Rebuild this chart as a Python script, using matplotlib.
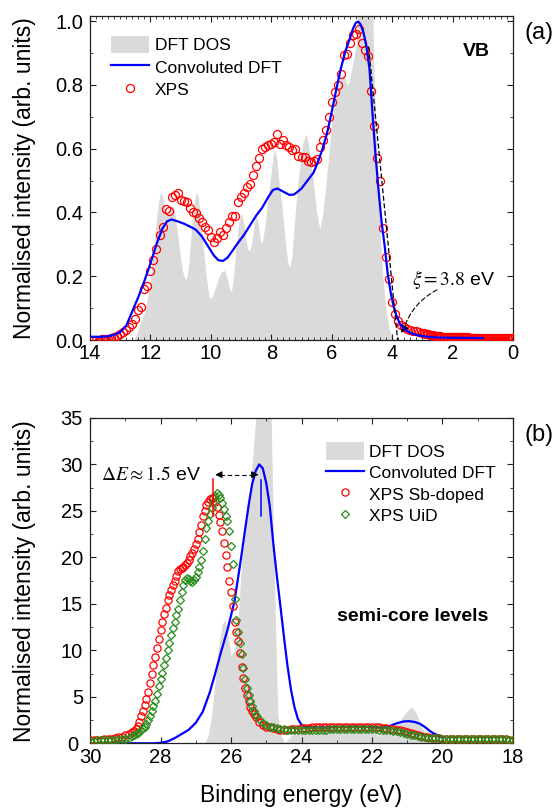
import numpy as np
import matplotlib
matplotlib.use('Agg')
import matplotlib.pyplot as plt
from matplotlib.ticker import MultipleLocator

plt.rcParams.update({
    'font.family': 'sans-serif',
    'font.sans-serif': ['Liberation Sans', 'Arial', 'DejaVu Sans'],
    'font.size': 14,
    'mathtext.fontset': 'stix',
    'axes.linewidth': 0.9,
    'axes.edgecolor': '#222222',
    'xtick.direction': 'in',
    'ytick.direction': 'in',
    'xtick.top': True,
    'ytick.right': True,
    'xtick.major.size': 4.5,
    'ytick.major.size': 4.5,
    'xtick.minor.size': 2.5,
    'ytick.minor.size': 2.5,
    'xtick.major.pad': 3.2,
    'ytick.major.pad': 5,
    'xtick.labelsize': 14.5,
    'ytick.labelsize': 14.5,
})

# ---------------- (a) valence band ----------------
dos_vb_E = [12.6, 12.55, 12.45, 12.35, 12.25, 12.19, 12.1, 12.0, 11.9, 11.8,
            11.72, 11.66, 11.6, 11.52, 11.45, 11.38, 11.3, 11.25, 11.18, 11.1,
            11.03, 10.95, 10.87, 10.81, 10.74, 10.68, 10.62, 10.55, 10.48, 10.42,
            10.35, 10.26, 10.18, 10.1, 10.04, 9.96, 9.88, 9.76, 9.65, 9.54,
            9.45, 9.38, 9.32, 9.25, 9.18, 9.1, 9.03, 8.98, 8.92, 8.85,
            8.78, 8.71, 8.64, 8.56, 8.49, 8.42, 8.36, 8.3, 8.22, 8.11,
            8.0, 7.94, 7.89, 7.82, 7.75, 7.67, 7.55, 7.45, 7.39, 7.32,
            7.25, 7.17, 7.05, 6.95, 6.85, 6.78, 6.7, 6.62, 6.5, 6.4,
            6.32, 6.22, 6.12, 6.0, 5.9, 5.79, 5.7, 5.63, 5.55, 5.46,
            5.38, 5.28, 5.18, 5.1, 5.0, 4.8, 4.66, 4.6, 4.55, 4.47,
            4.4, 4.3, 4.2, 4.1, 4.0, 3.9]
dos_vb = [0.0, 0.0, 0.02, 0.05, 0.07, 0.088, 0.13, 0.19, 0.28, 0.38,
          0.44, 0.465, 0.45, 0.41, 0.39, 0.40, 0.42, 0.42, 0.39, 0.33,
          0.276, 0.22, 0.195, 0.19, 0.23, 0.30, 0.37, 0.43, 0.465, 0.45,
          0.39, 0.30, 0.22, 0.16, 0.13, 0.135, 0.155, 0.19, 0.215, 0.218,
          0.19, 0.16, 0.15, 0.2, 0.28, 0.35, 0.39, 0.395, 0.37, 0.32,
          0.285, 0.28, 0.31, 0.37, 0.39, 0.36, 0.31, 0.305, 0.35, 0.443,
          0.53, 0.58, 0.595, 0.57, 0.5, 0.44, 0.32, 0.24, 0.23, 0.26,
          0.35, 0.443, 0.55, 0.62, 0.645, 0.62, 0.56, 0.505, 0.4, 0.35,
          0.38, 0.46, 0.56, 0.68, 0.75, 0.79, 0.82, 0.83, 0.815, 0.80,
          0.83, 0.88, 0.93, 1.1, 1.3, 1.4, 1.1, 0.85, 0.7, 0.5,
          0.34, 0.19, 0.09, 0.035, 0.008, 0.0]

conv_vb_E = [14.0, 13.6, 13.4, 13.2, 13.0, 12.8, 12.6, 12.4, 12.2, 12.0,
             11.8, 11.6, 11.45, 11.3, 11.1, 10.9, 10.7, 10.5, 10.3, 10.1,
             9.9, 9.75, 9.6, 9.45, 9.3, 9.1, 8.9, 8.7, 8.5, 8.3,
             8.1, 7.95, 7.8, 7.6, 7.4, 7.25, 7.1, 7.0, 6.8, 6.6,
             6.45, 6.3, 6.15, 6.0, 5.85, 5.7, 5.55, 5.4, 5.3, 5.2,
             5.12, 5.05, 4.95, 4.85, 4.75, 4.65, 4.55, 4.45, 4.35, 4.25,
             4.15, 4.05, 3.95, 3.86, 3.75, 3.6, 3.4, 3.2, 3.0, 2.6,
             2.0, 1.0]
conv_vb = [0.010, 0.010, 0.012, 0.016, 0.025, 0.045, 0.090, 0.135, 0.185, 0.240,
           0.300, 0.350, 0.372, 0.378, 0.372, 0.365, 0.356, 0.346, 0.325, 0.295,
           0.265, 0.250, 0.248, 0.258, 0.278, 0.305, 0.330, 0.360, 0.390, 0.415,
           0.448, 0.470, 0.475, 0.465, 0.455, 0.456, 0.467, 0.475, 0.500, 0.525,
           0.560, 0.600, 0.650, 0.715, 0.785, 0.850, 0.905, 0.945, 0.975, 0.995,
           0.998, 0.990, 0.965, 0.920, 0.850, 0.710, 0.580, 0.470, 0.370, 0.297,
           0.210, 0.150, 0.105, 0.077, 0.052, 0.035, 0.022, 0.016, 0.012, 0.008,
           0.007, 0.006]

# XPS sampled every 0.1 eV down to 3.0 eV, every 0.05 eV below
xps_vb_E = np.round(np.concatenate([np.arange(13.9, 2.95, -0.1),
                                    np.arange(2.95, -0.01, -0.05)]), 2)
xps_vb = [0.000, 0.000, 0.001, 0.002, 0.003, 0.004, 0.006, 0.009, 0.013, 0.018,
          0.024, 0.030, 0.040, 0.050, 0.065, 0.093, 0.105, 0.160, 0.170, 0.215,
          0.250, 0.286, 0.330, 0.355, 0.410, 0.405, 0.448, 0.455, 0.462, 0.440,
          0.435, 0.433, 0.415, 0.402, 0.398, 0.381, 0.370, 0.355, 0.345, 0.323,
          0.307, 0.320, 0.339, 0.328, 0.351, 0.370, 0.390, 0.390, 0.432, 0.448,
          0.460, 0.480, 0.490, 0.516, 0.547, 0.570, 0.600, 0.605, 0.610, 0.616,
          0.620, 0.647, 0.616, 0.626, 0.610, 0.605, 0.595, 0.600, 0.578, 0.573,
          0.573, 0.560, 0.558, 0.560, 0.568, 0.605, 0.626, 0.657, 0.700, 0.746,
          0.777, 0.800, 0.835, 0.893, 0.898, 0.930, 0.955, 0.960, 0.975, 0.930,
          0.910, 0.890, 0.780, 0.670, 0.570, 0.500, 0.350, 0.260, 0.190, 0.120,
          0.080, 0.060, 0.048, 0.040, 0.035, 0.031, 0.029, 0.027, 0.025, 0.022,
          # 2.95 .. 0.0
          0.021, 0.020, 0.019, 0.018, 0.017, 0.016, 0.015, 0.014, 0.013, 0.012,
          0.011, 0.011, 0.010, 0.010, 0.009, 0.009, 0.009, 0.008, 0.008, 0.008,
          0.008, 0.008, 0.008, 0.008, 0.008, 0.008, 0.008, 0.008, 0.008, 0.008,
          0.007, 0.007, 0.007, 0.007, 0.007, 0.007, 0.007, 0.007, 0.007, 0.007,
          0.007, 0.007, 0.007, 0.007, 0.007, 0.007, 0.007, 0.007, 0.007, 0.007,
          0.007, 0.007, 0.007, 0.007, 0.007, 0.007, 0.007, 0.007, 0.007, 0.007]

# leading-edge extrapolation (dashed line)
edge_E = [4.78, 3.82]
edge_val = [0.92, 0.0]

# ---------------- (b) semi-core levels ----------------
dos_sc_E = [26.75, 26.65, 26.55, 26.45, 26.35, 26.25, 26.17, 26.1, 26.0, 25.9,
            25.8, 25.7, 25.6, 25.5, 25.4, 25.28, 25.15, 25.05, 24.95, 24.86,
            24.78, 24.72, 24.67, 24.6, 24.5, 24.45, 24.3, 24.0, 23.5, 23.0,
            22.5, 22.0, 21.9, 21.82, 21.7, 21.4, 21.2, 21.0, 20.88, 20.75,
            20.6, 20.45, 20.3, 20.1, 19.9]
dos_sc = [0.0, 0.8, 3.0, 6.8, 10.5, 12.8, 13.3, 11.8, 9.5, 10.0,
          13.0, 19.5, 22.5, 26.0, 30.0, 36.0, 55.0, 60.0, 45.0, 35.0,
          19.7, 10.0, 3.0, 1.0, 0.2, 0.1, 0.8, 1.3, 1.5, 1.6,
          1.6, 1.5, 1.2, 0.7, 1.3, 1.8, 2.5, 3.5, 3.9, 3.3,
          1.8, 0.8, 0.3, 0.1, 0.0]

conv_sc_E = [30.0, 28.2, 28.0, 27.8, 27.6, 27.4, 27.2, 27.0, 26.8, 26.6,
             26.46, 26.3, 26.1, 25.9, 25.7, 25.6, 25.5, 25.4, 25.3, 25.2,
             25.1, 25.0, 24.9, 24.8, 24.7, 24.6, 24.5, 24.4, 24.3, 24.2,
             24.1, 24.0, 23.9, 23.5, 23.0, 22.5, 22.0, 21.7, 21.5, 21.3,
             21.1, 20.95, 20.8, 20.64, 20.5, 20.35, 20.26, 20.1, 20.0]
conv_sc = [0.0, 0.0, 0.05, 0.2, 0.55, 1.0, 1.45, 2.2, 3.4, 5.5,
           7.35, 9.6, 12.2, 15.3, 20.3, 23.0, 25.6, 27.9, 29.3, 30.0,
           29.6, 28.0, 25.5, 21.5, 18.0, 14.8, 11.5, 8.4, 5.8, 3.9,
           2.6, 2.0, 1.75, 1.7, 1.75, 1.8, 1.75, 1.7, 1.85, 2.15,
           2.35, 2.38, 2.3, 2.1, 1.75, 1.3, 1.08, 0.8, 0.6]

# XPS grid: 0.1 eV on the tails, 0.05 eV across the main peak
xps_sc_E = np.round(np.concatenate([np.arange(30.0, 28.79, -0.1),
                                    np.arange(28.75, 25.29, -0.05),
                                    np.arange(25.2, 17.99, -0.1)]), 2)
xps_sb = [0.30, 0.32, 0.35, 0.38, 0.42, 0.46, 0.50, 0.56, 0.64, 0.72, 0.85, 1.0, 1.2,
          # 28.75 .. 25.30
          1.35, 1.55, 1.9, 2.3, 2.9, 3.5, 4.1, 4.8, 5.5, 6.5,
          7.5, 8.4, 9.3, 10.3, 11.2, 12.2, 13.0, 13.9, 14.6, 15.4,
          16.0, 16.5, 17.0, 17.5, 18.0, 18.5, 18.8, 18.9, 19.0, 19.2,
          19.4, 19.7, 20.1, 20.5, 20.9, 21.4, 22.0, 22.7, 23.5, 24.4,
          25.0, 25.6, 26.0, 26.3, 26.4, 26.4, 26.0, 25.4, 24.6, 23.8,
          22.8, 21.6, 20.3, 19.0, 17.5, 16.3, 14.8, 13.1, 12.0, 11.0,
          9.7, 8.2, 7.0, 6.0, 5.2, 4.5, 3.9, 3.45, 3.1, 2.8,
          # 25.2 .. 18.0
          2.3, 2.0, 1.8, 1.7, 1.6, 1.5, 1.45, 1.45, 1.45, 1.5, 1.5, 1.55, 1.6,
          1.65, 1.65, 1.7, 1.7, 1.7, 1.75, 1.75, 1.75, 1.8, 1.8, 1.8, 1.8,
          1.8, 1.8, 1.8, 1.8, 1.8, 1.75, 1.75, 1.7, 1.7, 1.7, 1.65, 1.6,
          1.55, 1.5, 1.45, 1.4, 1.3, 1.2, 1.1, 1.0, 0.9, 0.8, 0.72, 0.65,
          0.6, 0.56, 0.53, 0.5,
          0.5, 0.49, 0.48, 0.48, 0.47, 0.46, 0.46, 0.45, 0.45, 0.44,
          0.44, 0.43, 0.43, 0.42, 0.42, 0.42, 0.41, 0.41, 0.40, 0.40]
xps_uid = [0.25, 0.28, 0.30, 0.32, 0.34, 0.36, 0.38, 0.40, 0.42, 0.45, 0.50, 0.60, 0.75,
           # 28.75 .. 25.30
           0.85, 0.95, 1.07, 1.25, 1.45, 1.65, 1.8, 2.1, 2.5, 2.95,
           3.5, 4.0, 4.6, 5.3, 6.2, 6.9, 7.6, 8.4, 9.2, 10.0,
           10.8, 11.6, 12.4, 13.1, 13.8, 14.5, 15.4, 16.3, 17.0, 17.6,
           17.8, 17.7, 17.5, 17.4, 17.6, 17.9, 18.4, 19.0, 19.7, 20.7,
           22.0, 23.2, 23.9, 24.7, 25.3, 26.0, 26.6, 26.9, 26.7, 26.4,
           25.8, 25.2, 24.5, 23.9, 22.8, 21.2, 19.3, 15.5, 13.3, 12.0,
           10.8, 9.6, 8.1, 6.9, 6.0, 5.2, 4.6, 4.0, 3.5, 3.05,
           # 25.2 .. 18.0
           2.6, 2.2, 1.95, 1.8, 1.7, 1.6, 1.55, 1.5, 1.45, 1.4, 1.4, 1.4, 1.4,
           1.4, 1.4, 1.4, 1.45, 1.45, 1.45, 1.45, 1.5, 1.5, 1.5, 1.5, 1.5,
           1.5, 1.5, 1.5, 1.5, 1.5, 1.5, 1.5, 1.5, 1.5, 1.45, 1.45, 1.45,
           1.4, 1.35, 1.3, 1.2, 1.1, 1.0, 0.92, 0.85, 0.78, 0.72, 0.66, 0.62,
           0.58, 0.55, 0.52, 0.5,
           0.5, 0.49, 0.48, 0.48, 0.47, 0.46, 0.46, 0.45, 0.45, 0.44,
           0.44, 0.43, 0.43, 0.42, 0.42, 0.42, 0.41, 0.41, 0.40, 0.40]

assert len(xps_vb) == len(xps_vb_E), (len(xps_vb), len(xps_vb_E))
assert len(xps_sb) == len(xps_sc_E), (len(xps_sb), len(xps_sc_E))
assert len(xps_uid) == len(xps_sc_E), (len(xps_uid), len(xps_sc_E))

GRAY = '#dadada'
GREEN = '#2a8c1c'

fig = plt.figure(figsize=(5.57, 8.08), dpi=100)
ax1 = fig.add_axes([0.1616, 0.5792, 0.7594, 0.4007])
ax2 = fig.add_axes([0.1616, 0.0801, 0.7594, 0.4026])

# ----- panel (a) -----
ax1.fill_between(dos_vb_E, 0, dos_vb, color=GRAY, lw=0, label='DFT DOS', zorder=1)
ax1.plot(xps_vb_E, xps_vb, 'o', ms=5.8, mfc='none', mec='red', mew=0.9,
         label='XPS', zorder=3)
ax1.plot(conv_vb_E, conv_vb, color='blue', lw=1.6, label='Convoluted DFT', zorder=4)
ax1.plot(edge_E, edge_val, color='k', lw=0.9, ls=(0, (4, 2)), zorder=5)

ax1.set_xlim(14, 0)
ax1.set_ylim(0, 1.015)
ax1.xaxis.set_major_locator(MultipleLocator(2))
ax1.xaxis.set_minor_locator(MultipleLocator(0.2))
ax1.yaxis.set_major_locator(MultipleLocator(0.2))
ax1.yaxis.set_minor_locator(MultipleLocator(0.1))
ax1.yaxis.set_major_formatter(plt.FormatStrFormatter('%.1f'))
ax1.set_ylabel('Normalised intensity (arb. units)', fontsize=16.5)
ax1.yaxis.set_label_coords(-0.128, 0.5)

h, l = ax1.get_legend_handles_labels()
order = [0, 2, 1]
ax1.legend([h[i] for i in order], [l[i] for i in order], loc='upper left',
           bbox_to_anchor=(0.05, 0.94), frameon=False, fontsize=12.5,
           handlelength=2.2, handleheight=1.15, handletextpad=0.3,
           labelspacing=0.28, borderpad=0, borderaxespad=0, numpoints=1)

ax1.text(0.76, 0.904, 'VB', fontsize=14, fontweight='bold', ha='right', va='center')
ax1.text(3.35, 0.19, r'$\xi = 3.8$ eV', fontsize=14, ha='left', va='center')
ax1.annotate('', xy=(3.62, 0.035), xytext=(2.52, 0.157),
             arrowprops=dict(arrowstyle='-', color='k', lw=0.8, ls=(0, (4, 2.5)),
                             connectionstyle='arc3,rad=0.2', shrinkA=0, shrinkB=0))
ax1.annotate('', xy=(3.70, 0.022), xytext=(3.62, 0.035),
             arrowprops=dict(arrowstyle='-|>', color='k', lw=0.8,
                             mutation_scale=11, shrinkA=0, shrinkB=0))

# ----- panel (b) -----
ax2.fill_between(dos_sc_E, 0, dos_sc, color=GRAY, lw=0, label='DFT DOS', zorder=1)
ax2.plot(conv_sc_E, conv_sc, color='blue', lw=1.6, label='Convoluted DFT', zorder=2)
ax2.plot(xps_sc_E, xps_sb, 'o', ms=5.2, mfc='none', mec='red', mew=0.9,
         label='XPS Sb-doped', zorder=3)
ax2.plot(xps_sc_E, xps_uid, 'D', ms=3.9, mfc='none', mec=GREEN, mew=0.9,
         label='XPS UiD', zorder=4)

# peak markers and shift arrow
ax2.plot([26.5, 26.5], [24.4, 28.4], color='red', lw=1.1, zorder=5)
ax2.plot([25.16, 25.16], [24.4, 28.3], color='blue', lw=1.1, zorder=5)
ax2.plot([26.3, 25.35], [28.9, 28.9], color='k', lw=0.8, ls=(0, (4, 2.5)), zorder=5)
ax2.annotate('', xy=(26.45, 28.9), xytext=(26.3, 28.9),
             arrowprops=dict(arrowstyle='-|>', color='k', lw=0.8,
                             mutation_scale=10, shrinkA=0, shrinkB=0))
ax2.annotate('', xy=(25.22, 28.9), xytext=(25.35, 28.9),
             arrowprops=dict(arrowstyle='-|>', color='k', lw=0.8,
                             mutation_scale=10, shrinkA=0, shrinkB=0))
ax2.text(26.83, 28.9, r'$\Delta E \approx 1.5$ eV', fontsize=14, ha='right', va='center')
ax2.text(20.85, 13.6, 'semi-core levels', fontsize=14, fontweight='bold',
         ha='center', va='center')

ax2.set_xlim(30, 18)
ax2.set_ylim(0, 35)
ax2.xaxis.set_major_locator(MultipleLocator(2))
ax2.xaxis.set_minor_locator(MultipleLocator(1))
ax2.yaxis.set_major_locator(MultipleLocator(5))
ax2.yaxis.set_minor_locator(MultipleLocator(2.5))
ax2.set_ylabel('Normalised intensity (arb. units)', fontsize=16.5)
ax2.yaxis.set_label_coords(-0.128, 0.5)
ax2.set_xlabel('Binding energy (eV)', fontsize=16.5)
ax2.xaxis.set_label_coords(0.5, -0.125)

ax2.legend(loc='upper left', bbox_to_anchor=(0.558, 0.925), frameon=False,
           fontsize=12.5, handlelength=2.2, handleheight=1.15, handletextpad=0.3,
           labelspacing=0.22, borderpad=0, borderaxespad=0, numpoints=1)

for ax in (ax1, ax2):
    ax.tick_params(which='both', colors='#222222', labelcolor='black')

fig.text(525 / 557, 1 - 33 / 808, '(a)', fontsize=17, ha='left', va='center')
fig.text(525 / 557, 1 - 435 / 808, '(b)', fontsize=17, ha='left', va='center')

# nudge the "0" label of panel (b) left so it clears the "30" below it
fig.canvas.draw()
for tick in ax2.yaxis.get_major_ticks():
    if abs(tick.get_loc()) < 1e-9:
        tick.set_pad(8.7)

fig.savefig('out.png', dpi=100)
